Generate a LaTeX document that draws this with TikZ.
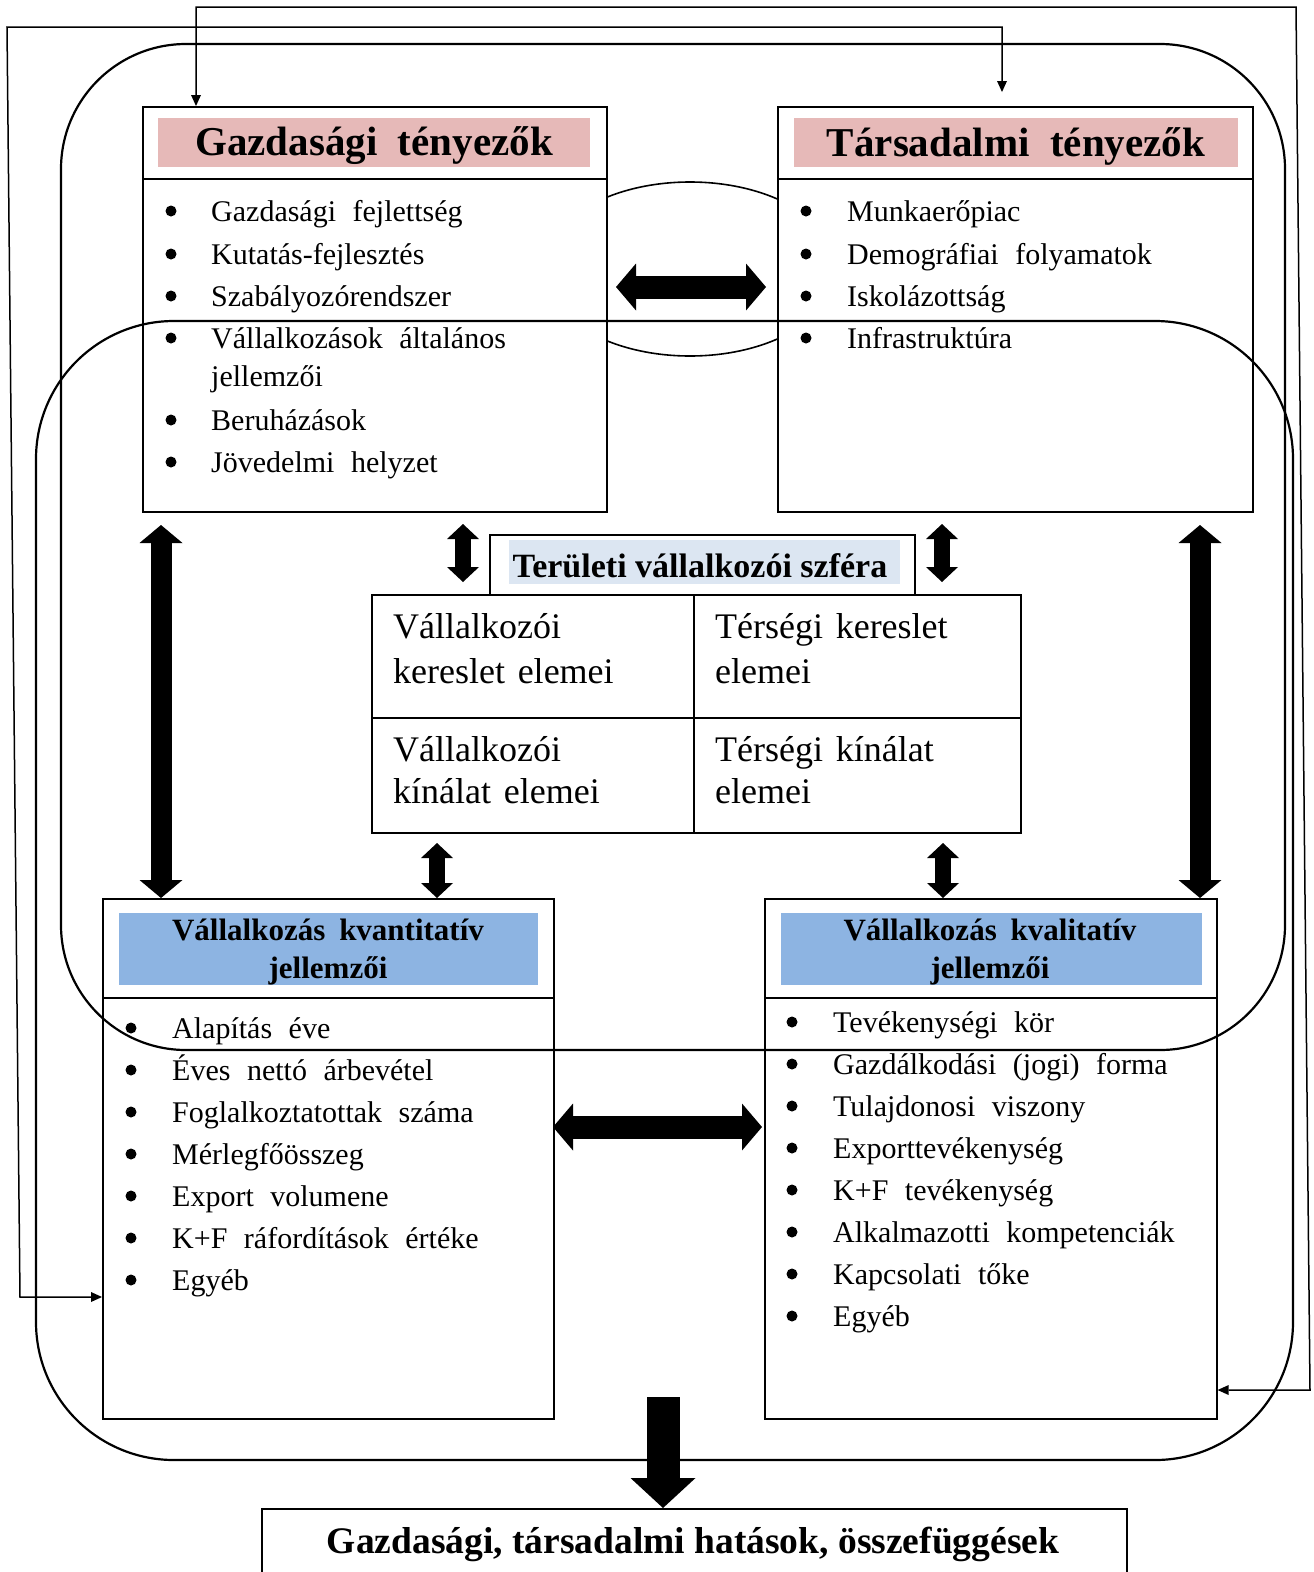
\documentclass[tikz,border=0pt]{standalone}
\usepackage{fontspec}
\setmainfont{Liberation Serif}
\usepackage{tikz}
\usetikzlibrary{positioning,arrows.meta}
\definecolor{hdrPink}{HTML}{E6B9B8}
\definecolor{hdrBlue}{HTML}{8DB4E2}
\definecolor{hdrPale}{HTML}{DCE6F2}
\newcommand{\listfont}{\fontsize{30}{36}\selectfont\spaceskip=0.55em\relax}
\newcommand{\titlefont}{\bfseries\fontsize{41}{44}\selectfont\spaceskip=0.5em\relax}
\newcommand{\subfont}{\bfseries\fontsize{31}{38}\selectfont\spaceskip=0.45em\relax}
\newcommand{\cellfont}{\fontsize{36}{42}\selectfont\spaceskip=0.35em\relax}

\begin{document}
\begin{tikzpicture}[x=1pt,y=-1pt,
  box/.style={draw,line width=1.6pt,fill=white,anchor=north west,inner sep=0pt},
  hdr/.style={inner sep=0pt,font=\titlefont},
  subhdr/.style={inner sep=0pt,align=center,font=\subfont},
  item/.style={anchor=base west,inner sep=0pt,font=\listfont},
  dot/.style={circle,fill,inner sep=0pt,minimum size=11pt},
  cell/.style={anchor=base west,inner sep=0pt,font=\cellfont},
  ring/.style={draw,line width=2.2pt},
  flow/.style={line width=1.5pt,{Triangle[width=10pt,length=11pt,line width=0pt]}-{Triangle[width=10pt,length=11pt,line width=0pt]}},
  fat/.style={line width=21pt,{Triangle[width=43pt,length=18pt,line width=0pt]}-{Triangle[width=43pt,length=18pt,line width=0pt]}},
  slim/.style={line width=16pt,{Triangle[width=32pt,length=15pt,line width=0pt]}-{Triangle[width=32pt,length=15pt,line width=0pt]}},
  wide/.style={line width=23pt,{Triangle[width=47pt,length=20pt,line width=0pt]}-{Triangle[width=47pt,length=20pt,line width=0pt]}}]
  \useasboundingbox (0,0) rectangle (1314,1572);
  % link between the two factor groups
  \draw[line width=1.6pt] (690,269) ellipse [x radius=147, y radius=87];
  % factor boxes
  \node[box,minimum width=464pt,minimum height=72pt] (gazdtop) at (142,106) {};
  \node[box,minimum width=464pt,minimum height=333pt] (gazdbody) at (142,178) {};
  \node[box,minimum width=475pt,minimum height=72pt] (tarstop) at (777,106) {};
  \node[box,minimum width=475pt,minimum height=333pt] (tarsbody) at (777,178) {};
  \node[fill=hdrPink,minimum width=432pt,minimum height=49pt] (gazdhead) at (374,142.5) {};
  \node[fill=hdrPink,minimum width=444pt,minimum height=49pt] (tarshead) at (1016,142.5) {};
  \node[hdr] (gazdtitle) at (374,146) {Gazdasági tényezők};
  \node[hdr] (tarstitle) at (1016,146) {Társadalmi tényezők};
  \foreach \y/\txt in {221/Gazdasági fejlettség,264/Kutatás-fejlesztés,306/Szabályozórendszer,348/Vállalkozások általános,430/Beruházások,472/Jövedelmi helyzet}{
    \node[dot] (gb\y) at (171,\y-10) {};
    \node[item] (gi\y) at (211,\y) {\txt};
  }
  \node[item] (gi386) at (211,386) {jellemzői};
  \foreach \y/\txt in {221/Munkaerőpiac,264/Demográfiai folyamatok,306/Iskolázottság,348/Infrastruktúra}{
    \node[dot] (tb\y) at (806,\y-10) {};
    \node[item] (ti\y) at (847,\y) {\txt};
  }
  % regional sphere
  \node[box,minimum width=425pt,minimum height=60pt] (teru) at (489,534) {};
  \node[fill=hdrPale,inner sep=0pt,minimum width=391pt,minimum height=44pt] (teruhead) at (704.5,562) {};
  \node[inner sep=0pt,font=\bfseries\fontsize{34}{36}\selectfont] (terutitle) at (700,566) {Területi vállalkozói szféra};
  \node[box,minimum width=322pt,minimum height=123pt] (cellA) at (371,594) {};
  \node[box,minimum width=327pt,minimum height=123pt] (cellB) at (693,594) {};
  \node[box,minimum width=322pt,minimum height=115pt] (cellC) at (371,717) {};
  \node[box,minimum width=327pt,minimum height=115pt] (cellD) at (693,717) {};
  \node[cell] (cA1) at (393,638) {Vállalkozói};
  \node[cell] (cA2) at (393,683) {kereslet elemei};
  \node[cell] (cB1) at (715,638) {Térségi kereslet};
  \node[cell] (cB2) at (715,683) {elemei};
  \node[cell] (cC1) at (393,761) {Vállalkozói};
  \node[cell] (cC2) at (393,803) {kínálat elemei};
  \node[cell] (cD1) at (715,761) {Térségi kínálat};
  \node[cell] (cD2) at (715,803) {elemei};
  % enterprise boxes
  \node[box,minimum width=451pt,minimum height=99pt] (kvanttop) at (102,898) {};
  \node[box,minimum width=451pt,minimum height=421pt] (kvantbody) at (102,997) {};
  \node[box,minimum width=452pt,minimum height=99pt] (kvaltop) at (764,898) {};
  \node[box,minimum width=452pt,minimum height=421pt] (kvalbody) at (764,997) {};
  \node[fill=hdrBlue,minimum width=419pt,minimum height=72pt] (kvanthead) at (328.5,949) {};
  \node[fill=hdrBlue,minimum width=421pt,minimum height=72pt] (kvalhead) at (991.5,949) {};
  \node[subhdr] (kvanttitle) at (328,952) {Vállalkozás kvantitatív\\jellemzői};
  \node[subhdr] (kvaltitle) at (990,952) {Vállalkozás kvalitatív\\jellemzői};
  \foreach \y/\txt in {1038/Alapítás éve,1080/Éves nettó árbevétel,1122/Foglalkoztatottak száma,1164/Mérlegfőösszeg,1206/Export volumene,1248/K+F ráfordítások értéke,1290/Egyéb}{
    \node[dot] (nb\y) at (131,\y-10) {};
    \node[item] (ni\y) at (172,\y) {\txt};
  }
  \foreach \y/\txt in {1032/Tevékenységi kör,1074/Gazdálkodási (jogi) forma,1116/Tulajdonosi viszony,1158/Exporttevékenység,1200/K+F tevékenység,1242/Alkalmazotti kompetenciák,1284/Kapcsolati tőke,1326/Egyéb}{
    \node[dot] (lb\y) at (792,\y-10) {};
    \node[item] (li\y) at (833,\y) {\txt};
  }
  % outcome
  \node[box,minimum width=865pt,minimum height=90pt] (hatas) at (261,1508) {};
  \node[inner sep=0pt,font=\bfseries\fontsize{37.5}{40}\selectfont] (hatastext) at (693,1544) {Gazdasági, társadalmi hatások, összefüggések};
  % the two surrounding frames
  \draw[ring,rounded corners=125pt] (61,44) rectangle (1285,1050);
  \draw[ring,rounded corners=138pt] (36,321) rectangle (1293,1460);
  % feedback loops
  \coordinate (fbA) at (196,7);
  \coordinate (fbB) at (1296,7);
  \coordinate (fbC) at (1310,1390);
  \draw[flow] (gazdtop.north -| fbA) -- (fbA) -- (fbB) -- (fbC) -- (fbC -| kvalbody.east);
  \coordinate (fcA) at (1002,92);
  \coordinate (fcB) at (1002,27);
  \coordinate (fcC) at (7,27);
  \coordinate (fcD) at (20,1297);
  \draw[flow] (fcA) -- (fcB) -- (fcC) -- (fcD) -- (fcD -| kvantbody.west);
  % block arrows
  \coordinate (vL) at (161,525);
  \coordinate (vR) at (1200,525);
  \draw[fat] (vL) -- (vL |- kvanttop.north);
  \draw[fat] (vR) -- (vR |- kvaltop.north);
  \coordinate (sTL) at (463,524);
  \coordinate (sTR) at (942,524);
  \draw[slim] (sTL) -- ++(0,58);
  \draw[slim] (sTR) -- ++(0,58);
  \coordinate (sBL) at (437,843);
  \coordinate (sBR) at (943,843);
  \draw[slim] (sBL) -- (sBL |- kvanttop.north);
  \draw[slim] (sBR) -- (sBR |- kvaltop.north);
  \coordinate (hT1) at (616,287);
  \coordinate (hT2) at (766,287);
  \draw[wide] (hT1) -- (hT2);
  \coordinate (hB1) at (553,1127);
  \coordinate (hB2) at (762,1127);
  \draw[wide] (hB1) -- (hB2);
  \coordinate (dn) at (663,1397);
  \draw[line width=33pt,-{Triangle[width=65pt,length=30pt,line width=0pt]}] (dn) -- (dn |- hatas.north);
\end{tikzpicture}
\end{document}
